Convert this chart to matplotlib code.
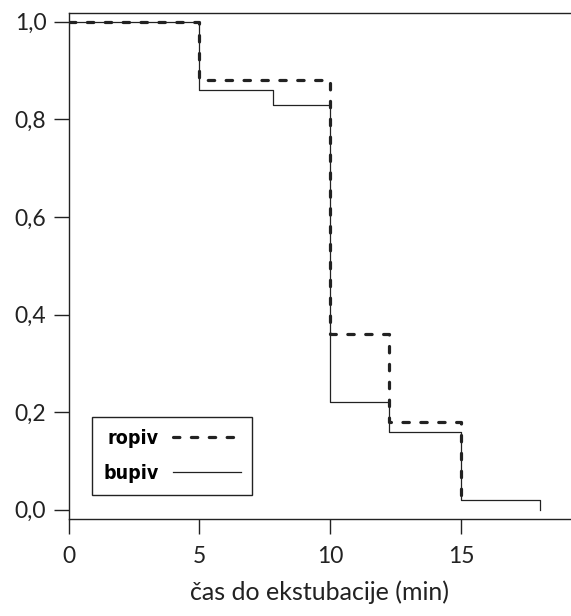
import matplotlib
matplotlib.use("Agg")
import matplotlib.pyplot as plt
from matplotlib.lines import Line2D

# survival data
ropiv_t = [0, 5, 10, 12.23, 15]
ropiv_s = [1.0, 0.88, 0.36, 0.18, 0.01]
bupiv_t = [0, 5, 7.8, 10, 12.23, 15, 18]
bupiv_s = [1.0, 0.86, 0.83, 0.22, 0.16, 0.02, 0.0]

x_ticks = [0, 5, 10, 15]
y_ticks = [0.0, 0.2, 0.4, 0.6, 0.8, 1.0]
y_labels = ["0,0", "0,2", "0,4", "0,6", "0,8", "1,0"]

ink = "#222222"
dash = (0, (2.0, 3.6))
plt.rcParams['font.family'] = ['Lato', 'DejaVu Sans']

fig = plt.figure(figsize=(5.71, 6.16), dpi=100)
ax = fig.add_axes([0.12, 0.157, 0.88, 0.822])

ax.step(bupiv_t, bupiv_s, where='post', color=ink, lw=0.9)
ax.step(ropiv_t, ropiv_s, where='post', color=ink, lw=2.3,
        linestyle=dash, dash_capstyle='round')

ax.set_xlim(0, 19.2)
ax.set_ylim(-0.0195, 1.018)
ax.set_xticks(x_ticks)
ax.set_yticks(y_ticks)
ax.set_yticklabels(y_labels)
ax.tick_params(length=11, width=1.0, color=ink, labelsize=16.5, labelcolor=ink, pad=5)
ax.tick_params(axis='x', pad=8)

for side in ['left', 'top', 'bottom']:
    ax.spines[side].set_color(ink)
    ax.spines[side].set_linewidth(1.0)
ax.spines['right'].set_visible(False)

ax.set_xlabel("čas do ekstubacije (min)", fontsize=18, color=ink, labelpad=10)

handles = [Line2D([0], [0], color=ink, lw=2.3, linestyle=dash, dash_capstyle='round'),
           Line2D([0], [0], color=ink, lw=0.9)]
leg = ax.legend(handles, ["ropiv", "bupiv"], loc='upper left',
                bbox_to_anchor=(92 / 571, 1 - 417 / 616), bbox_transform=fig.transFigure,
                borderaxespad=0, markerfirst=False, fancybox=False, framealpha=1, edgecolor=ink,
                handlelength=3.5, handletextpad=0.7, labelspacing=0.85, borderpad=0.6,
                prop={'family': ['DejaVu Sans'], 'stretch': 'condensed', 'weight': 'bold', 'size': 14})
leg.get_frame().set_linewidth(1.0)

fig.savefig("out.png", dpi=100)
